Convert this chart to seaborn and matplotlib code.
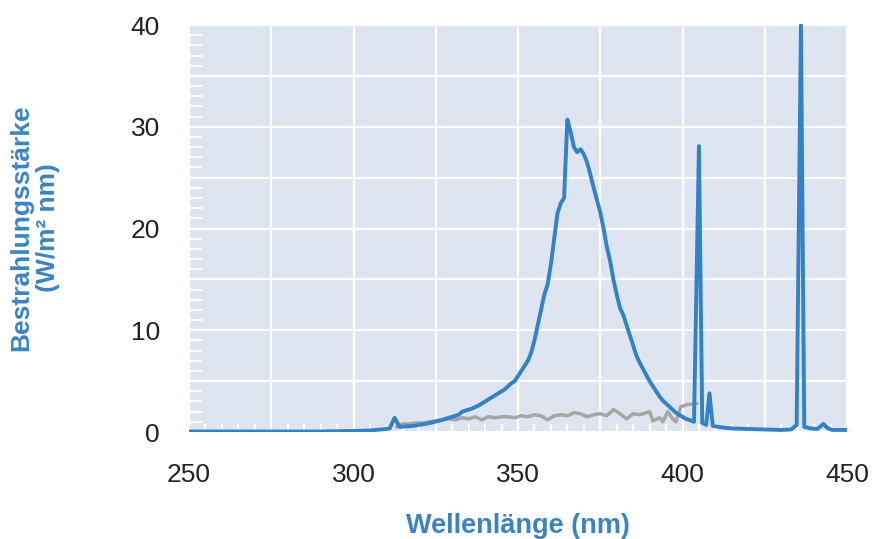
import numpy as np
import pandas as pd
import seaborn as sns
import matplotlib.pyplot as plt
from matplotlib.ticker import MultipleLocator

### blue spectrum (lamp)
lamp_nm = [250, 260, 270, 280, 290, 295, 300, 305, 310, 311, 312.5, 314, 316, 318, 320,
	322, 324, 326, 328, 330, 332, 333, 334, 336, 338, 340, 342, 344, 346, 347, 348, 349,
	350, 351, 352, 353, 354, 355, 356, 357, 358, 359, 360, 361, 362, 363, 364, 365, 366,
	367, 368, 369, 370, 371, 372, 373, 374, 375, 376, 377, 378, 379, 380, 381, 382, 383,
	384, 385, 386, 387, 388, 389, 390, 391, 392, 393, 394, 395, 396, 397, 398, 399, 400,
	401, 402, 403.5, 405, 406, 407.2, 408.2, 409.2, 412, 415, 420, 425, 430, 433, 434.7,
	436, 437, 439, 441, 442.8, 444, 445.5, 450]
lamp_val = [0.05, 0.05, 0.05, 0.05, 0.05, 0.08, 0.1, 0.15, 0.3, 0.35, 1.4, 0.5, 0.55, 0.6, 0.7,
	0.8, 0.95, 1.1, 1.3, 1.5, 1.7, 2.0, 2.1, 2.3, 2.6, 3.0, 3.4, 3.8, 4.2, 4.5, 4.8, 5.0,
	5.5, 6.0, 6.5, 7.0, 7.8, 9.0, 10.5, 12.0, 13.5, 14.5, 16.5, 19.0, 21.5, 22.5, 23.0, 30.7, 29.5,
	28.0, 27.5, 27.8, 27.3, 26.5, 25.3, 24.0, 22.8, 21.6, 20.0, 18.2, 16.8, 15.0, 13.5, 12.2, 11.5, 10.5,
	9.5, 8.5, 7.5, 6.8, 6.2, 5.6, 5.0, 4.5, 4.0, 3.5, 3.1, 2.8, 2.5, 2.2, 1.9, 1.7, 1.5,
	1.3, 1.2, 1.0, 28.1, 0.9, 0.7, 3.8, 0.6, 0.45, 0.35, 0.3, 0.25, 0.2, 0.25, 0.7,
	40.0, 0.5, 0.35, 0.3, 0.8, 0.4, 0.2, 0.2]

### gray spectrum
ref_nm = [313, 315, 317, 319, 321, 323, 325, 327, 329, 331, 333, 335, 337, 339, 341, 343, 345,
	347, 349, 351, 353, 355, 357, 359, 361, 363, 365, 367, 369, 371, 373, 375, 377, 379, 381,
	383, 385, 387, 389, 390, 391, 393, 394, 395.5, 397, 398, 399.5, 401.5, 404.5]
ref_val = [0.5, 0.8, 0.8, 0.9, 0.9, 1.0, 1.1, 1.2, 1.3, 1.2, 1.4, 1.3, 1.5, 1.2, 1.5, 1.4, 1.5,
	1.5, 1.4, 1.6, 1.5, 1.7, 1.6, 1.2, 1.6, 1.7, 1.6, 1.9, 1.8, 1.5, 1.7, 1.8, 1.6, 2.2, 1.8,
	1.3, 1.8, 1.7, 1.9, 2.0, 1.1, 1.4, 1.0, 2.0, 1.3, 1.0, 2.5, 2.7, 2.8]

x_ticks = [250, 275, 300, 325, 350, 375, 400, 425, 450]
y_ticks = [0, 5, 10, 15, 20, 25, 30, 35, 40]

blue = '#3282c4'
label_blue = '#3a84c5'

sns.set_theme(style='darkgrid', rc={'axes.facecolor': '#dfe4f1', 'grid.color': 'white',
	'grid.linewidth': 1.6})
plt.rcParams['font.family'] = ['Liberation Sans', 'DejaVu Sans']

fig = plt.figure(figsize=(8.75, 5.39), dpi=100)
ax = fig.add_axes([0.216, 0.1985, 0.752, 0.757])

lamp = pd.DataFrame({'nm': lamp_nm, 'val': lamp_val})
ref = pd.DataFrame({'nm': ref_nm, 'val': ref_val})

sns.lineplot(data=ref, x='nm', y='val', ax=ax, color='#a6a6a6', linewidth=2.5, sort=False)
sns.lineplot(data=lamp, x='nm', y='val', ax=ax, color=blue, linewidth=2.8, sort=False)

ax.set_xlim(250, 450)
ax.set_ylim(0, 40.1)

### ticks: grid every 25 / 5, labels every 50 / 10
ax.set_xticks(x_ticks)
ax.set_xticklabels([str(t) if t % 50 == 0 else '' for t in x_ticks])
ax.set_yticks(y_ticks)
ax.set_yticklabels([str(t) if t % 10 == 0 else '' for t in y_ticks])
ax.xaxis.set_minor_locator(MultipleLocator(5))
ax.yaxis.set_minor_locator(MultipleLocator(1))
ax.tick_params(which='major', length=0, labelsize=19, colors='#222222')
ax.tick_params(axis='x', which='major', pad=22)
ax.tick_params(axis='y', which='major', pad=21)
ax.tick_params(axis='x', which='minor', direction='in', length=6, width=1.5, color='white', bottom=True)
ax.tick_params(axis='y', which='minor', direction='in', length=9, width=1.5, color='white', left=True)

ax.set_xlabel('Wellenlänge (nm)', fontsize=19.5, fontweight='bold', color=label_blue, labelpad=19)
ax.set_ylabel('Bestrahlungsstärke\n(W/m² nm)', fontsize=19, fontweight='bold', color=label_blue,
	labelpad=51, linespacing=1.1)

for s in ax.spines.values():
	s.set_visible(False)

plt.savefig('out.png', dpi=100)
